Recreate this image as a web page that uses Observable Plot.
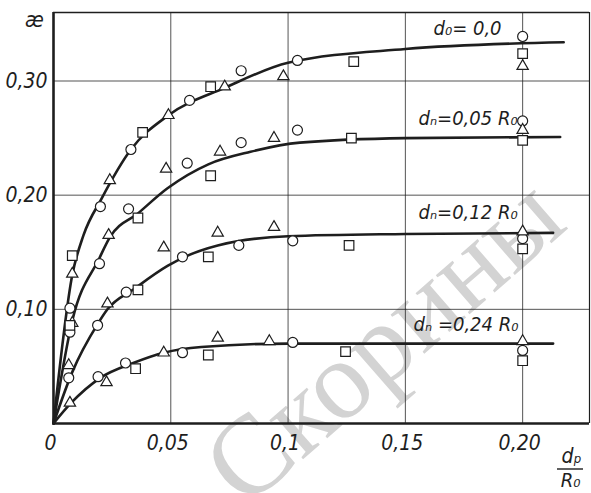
<!DOCTYPE html>
<html><head><meta charset="utf-8">
<script src="https://cdn.jsdelivr.net/npm/d3@7"></script>
<script src="https://cdn.jsdelivr.net/npm/@observablehq/plot@0.6"></script>
<style>body{margin:0;background:#fff}</style>
</head><body><div id="chart"></div>
<script>
// ---- data ----
const xTickValues = [0, 0.05, 0.1, 0.15, 0.2];
const xTickLabels = ["0", "0,05", "0,1", "0,15", "0,20"];
const yTickValues = [0.1, 0.2, 0.3];
const yTickLabels = ["0,10", "0,20", "0,30"];
const xMax = 0.2285, yMax = 0.36;

const curve1X = [0, 0.008, 0.0128, 0.0205, 0.033, 0.049, 0.073, 0.100, 0.150, 0.2175];
const curve1Y = [0, 0.130, 0.165, 0.197, 0.240, 0.270, 0.294, 0.316, 0.328, 0.334];
const curve2X = [0, 0.008, 0.0196, 0.024, 0.036, 0.0486, 0.066, 0.084, 0.105, 0.150, 0.216];
const curve2Y = [0, 0.090, 0.145, 0.163, 0.184, 0.206, 0.227, 0.238, 0.246, 0.250, 0.251];
const curve3X = [0, 0.008, 0.0188, 0.023, 0.0345, 0.0486, 0.056, 0.070, 0.100, 0.150, 0.213];
const curve3Y = [0, 0.045, 0.087, 0.100, 0.118, 0.138, 0.146, 0.156, 0.164, 0.166, 0.167];
const curve4X = [0, 0.0075, 0.020, 0.034, 0.047, 0.063, 0.100, 0.150, 0.213];
const curve4Y = [0, 0.018, 0.040, 0.053, 0.062, 0.067, 0.070, 0.070, 0.070];

const circleX = [0.007, 0.007, 0.0065, 0.020, 0.033, 0.058, 0.080, 0.104, 0.200,
  0.0196, 0.032, 0.057, 0.080, 0.104, 0.200,
  0.0188, 0.031, 0.055, 0.079, 0.102, 0.200,
  0.019, 0.0307, 0.055, 0.102, 0.200];
const circleY = [0.101, 0.080, 0.040, 0.190, 0.240, 0.283, 0.309, 0.318, 0.339,
  0.140, 0.188, 0.228, 0.246, 0.257, 0.265,
  0.086, 0.115, 0.146, 0.156, 0.160, 0.162,
  0.041, 0.053, 0.062, 0.071, 0.064];
const triangleX = [0.008, 0.008, 0.0065, 0.007, 0.024, 0.049, 0.073, 0.098, 0.200,
  0.0235, 0.048, 0.071, 0.094, 0.200,
  0.023, 0.047, 0.070, 0.094, 0.200,
  0.0226, 0.047, 0.070, 0.092, 0.200];
const triangleY = [0.131, 0.088, 0.051, 0.018, 0.213, 0.270, 0.295, 0.304, 0.313,
  0.165, 0.223, 0.238, 0.250, 0.257,
  0.105, 0.154, 0.167, 0.172, 0.168,
  0.036, 0.062, 0.075, 0.072, 0.072];
const squareX = [0.008, 0.007, 0.038, 0.067, 0.128, 0.200,
  0.036, 0.067, 0.127, 0.200,
  0.036, 0.066, 0.126, 0.200,
  0.035, 0.066, 0.1245, 0.200];
const squareY = [0.147, 0.086, 0.255, 0.295, 0.317, 0.324,
  0.180, 0.217, 0.250, 0.248,
  0.117, 0.146, 0.156, 0.153,
  0.048, 0.060, 0.063, 0.055];

const labelText = ["d\u2080= 0,0", "d\u2099=0,05 R\u2080", "d\u2099=0,12 R\u2080", "d\u2099 =0,24 R\u2080"];
const labelX = [0.162, 0.1556, 0.1556, 0.1535];
const labelY = [0.346, 0.267, 0.185, 0.087];

const yTitle = "æ";
const xTitleTop = "d\u209A";
const xTitleBottom = "R\u2080";
const watermark = "Ф. Скорины";

// ---- helpers ----
const rows = (xs, ys) => xs.map((x, i) => ({x, y: ys[i]}));
const FONT = '"Liberation Sans Narrow","DejaVu Sans Condensed","Liberation Sans",sans-serif';
const INK = "#1e1e1e";
const curves = [[curve1X, curve1Y], [curve2X, curve2Y], [curve3X, curve3Y], [curve4X, curve4Y]];
const labels = labelText.map((t, i) => ({text: t, x: labelX[i], y: labelY[i]}));

const fractionBar = (index, scales, values, dim) => {
  const line = d3.create("svg:line")
    .attr("x1", dim.width - dim.marginRight - 32)
    .attr("x2", dim.width - dim.marginRight - 6)
    .attr("y1", dim.height - dim.marginBottom + 46)
    .attr("y2", dim.height - dim.marginBottom + 46)
    .attr("stroke", INK).attr("stroke-width", 1.4);
  return line.node();
};

const chart = Plot.plot({
  width: 591, height: 493,
  marginLeft: 53, marginRight: 2, marginTop: 12, marginBottom: 70,
  x: {domain: [0, xMax]},
  y: {domain: [0, yMax]},
  style: {fontFamily: FONT, background: "white", color: INK},
  marks: [
    Plot.text([watermark], {frameAnchor: "top-left", dx: 276, dy: 376, rotate: -41,
      fontSize: 112, fontFamily: '"Liberation Serif",serif', fill: "#d3d3d3",
      textAnchor: "middle", lineAnchor: "middle"}),
    Plot.gridX(xTickValues.slice(1), {stroke: INK, strokeOpacity: 0.85, strokeWidth: 0.9}),
    Plot.gridY(yTickValues, {stroke: INK, strokeOpacity: 0.85, strokeWidth: 0.9}),
    Plot.ruleY([yMax], {stroke: INK, strokeWidth: 1.6}),
    Plot.ruleX([xMax], {stroke: INK, strokeWidth: 1.2}),
    Plot.ruleX([0], {stroke: INK, strokeWidth: 2.6}),
    Plot.ruleY([0], {stroke: INK, strokeWidth: 2.6}),
    ...curves.map(([xs, ys]) => Plot.line(rows(xs, ys), {x: "x", y: "y", curve: "monotone-x",
      stroke: INK, strokeWidth: 2.6})),
    Plot.dot(rows(circleX, circleY), {x: "x", y: "y", symbol: "circle", r: 5,
      fill: "white", stroke: INK, strokeWidth: 1.2}),
    Plot.dot(rows(triangleX, triangleY), {x: "x", y: "y", symbol: "triangle", r: 4.2,
      fill: "white", stroke: INK, strokeWidth: 1.2}),
    Plot.dot(rows(squareX, squareY), {x: "x", y: "y", symbol: "square", r: 5.4,
      fill: "white", stroke: INK, strokeWidth: 1.2}),
    Plot.text(labels, {x: "x", y: "y", text: "text", textAnchor: "start", lineAnchor: "middle",
      fontSize: 20, fontStyle: "italic", fill: INK}),
    Plot.axisX(xTickValues, {tickSize: 0, tickPadding: 12, dx: -3,
      tickFormat: d => xTickLabels[xTickValues.indexOf(d)],
      fontSize: 21, fontStyle: "italic", label: null}),
    Plot.axisY(yTickValues, {tickSize: 0, tickPadding: 6,
      tickFormat: d => yTickLabels[yTickValues.indexOf(d)],
      fontSize: 21, fontStyle: "italic", label: null}),
    Plot.text([yTitle], {frameAnchor: "top-left", dx: -19, dy: 8, fontSize: 21,
      fontStyle: "italic", textAnchor: "middle", lineAnchor: "middle"}),
    Plot.text([xTitleTop], {frameAnchor: "bottom-right", dx: -18, dy: 33, fontSize: 21,
      fontStyle: "italic", textAnchor: "middle", lineAnchor: "middle"}),
    Plot.text([xTitleBottom], {frameAnchor: "bottom-right", dx: -19, dy: 57, fontSize: 20,
      fontStyle: "italic", textAnchor: "middle", lineAnchor: "middle"}),
    fractionBar
  ]
});
document.getElementById("chart").append(chart);
</script></body></html>
